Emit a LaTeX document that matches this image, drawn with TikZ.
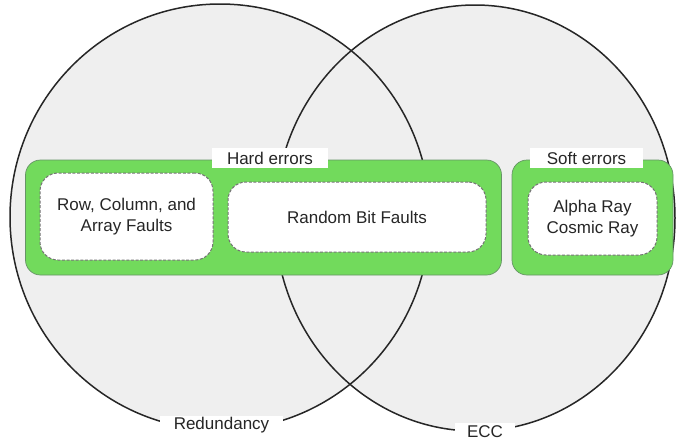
\documentclass[tikz,border=0pt]{standalone}
\usepackage{fontspec}
\setmainfont{Liberation Sans}
\begin{document}
\begin{tikzpicture}[x=1pt,y=-1pt,
  ring/.style={line width=1.5pt, draw=black!85},
  group/.style={draw=green!30!black!60, line width=0.7pt, fill=grp, rounded corners=15pt, inner sep=0pt},
  item/.style={draw=black!55, dash pattern=on 3pt off 1.6pt, line width=1pt, fill=white, rounded corners=18pt, inner sep=0pt, align=center, font=\fontsize{17}{20.5}\selectfont, text=black!85},
  tag/.style={fill=white, inner sep=0pt, font=\fontsize{17}{20.5}\selectfont, text=black!85}]
\definecolor{grp}{HTML}{72DA5C}
\definecolor{venn}{HTML}{EFEFEF}
\useasboundingbox (0,0) rectangle (680,440);
\fill[white] (0,0) rectangle (680,440);
% circles
\fill[venn] (220,217) ellipse [x radius=210, y radius=213];
\fill[venn] (475,218) ellipse [x radius=200, y radius=213];
\draw[ring] (220,217) ellipse [x radius=210, y radius=213];
\draw[ring] (475,218) ellipse [x radius=200, y radius=213];
% groups
\node[group, minimum width=476pt, minimum height=115pt] (hard) at (263.5,217.5) {};
\node[group, minimum width=161pt, minimum height=115pt] (soft) at (592.5,217.5) {};
\node[tag, minimum width=116pt, minimum height=20pt] (hardlbl) at (270,158) {Hard errors};
\node[tag, minimum width=113pt, minimum height=20pt] (softlbl) at (586.5,158) {Soft errors};
% items
\node[item, minimum width=173pt, minimum height=87pt] (rca) at (126.5,216.5) {Row, Column, and\\Array Faults};
\node[item, minimum width=258pt, minimum height=70pt] (rbf) at (357,217) {Random Bit Faults};
\node[item, minimum width=129pt, minimum height=73pt] (ray) at (592.5,218.5) {Alpha Ray\\Cosmic Ray};
% circle labels
\node[tag, minimum width=123pt, minimum height=18pt] (red) at (221.5,425) {Redundancy};
\node[tag, minimum width=60pt, minimum height=18pt] (ecc) at (485,432) {ECC};
\end{tikzpicture}
\end{document}
